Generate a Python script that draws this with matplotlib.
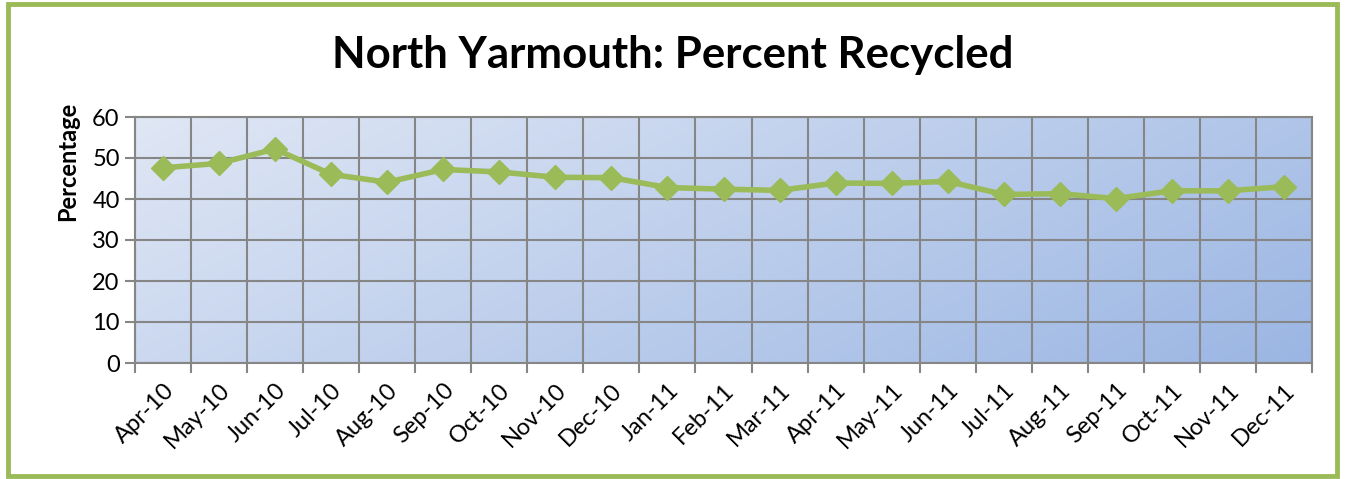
import numpy as np
import matplotlib
matplotlib.use("Agg")
import matplotlib.pyplot as plt
from matplotlib.patches import Rectangle

months = ['Apr-10', 'May-10', 'Jun-10', 'Jul-10', 'Aug-10', 'Sep-10', 'Oct-10',
          'Nov-10', 'Dec-10', 'Jan-11', 'Feb-11', 'Mar-11', 'Apr-11', 'May-11',
          'Jun-11', 'Jul-11', 'Aug-11', 'Sep-11', 'Oct-11', 'Nov-11', 'Dec-11']
pct_recycled = [47.6, 48.7, 52.2, 46.0, 44.1, 47.2, 46.6, 45.3, 45.2, 42.8, 42.4,
                42.1, 43.9, 43.8, 44.3, 41.1, 41.3, 40.1, 42.0, 42.0, 43.0]
y_ticks = [0, 10, 20, 30, 40, 50, 60]

plt.rcParams['font.family'] = ['Lato', 'DejaVu Sans']

fig = plt.figure(figsize=(13.45, 4.79), dpi=100)
# green frame round the chart
fig.patches.append(Rectangle((0.006, 0.007), 0.988, 0.985, transform=fig.transFigure,
                             fill=False, edgecolor='#9bbb59', linewidth=3.5))

ax = fig.add_axes([135 / 1345, 1 - 363 / 479, (1312 - 135) / 1345, (363 - 117) / 479])

# gradient fill, light top-left to darker bottom-right
gx, gy = np.meshgrid(np.linspace(0, 1, 200), np.linspace(0, 1, 200))
t = (gx * 0.7 + gy * 0.3)
c0 = np.array([0xe0, 0xe7, 0xf5]) / 255
c1 = np.array([0x9b, 0xb6, 0xe3]) / 255
img = c0 + (c1 - c0) * t[..., None]
ax.imshow(img, extent=[0, 1, 0, 1], transform=ax.transAxes, aspect='auto', zorder=0)

x = np.arange(len(months))
ax.plot(x, pct_recycled, color='#9bbb59', lw=4, marker='D', ms=12.5, zorder=3)

ax.set_xlim(-0.5, len(months) - 0.5)
ax.set_ylim(0, 60)
ax.set_yticks(y_ticks)
ax.set_xticks(x)
ax.set_xticklabels(months, rotation=45, ha='right', rotation_mode='anchor', fontsize=17)
ax.tick_params(axis='x', length=0, pad=12)
ax.set_xticks(np.arange(-0.5, len(months)), minor=True)
ax.tick_params(axis='x', which='minor', length=7, width=1.5, color='#868686')
ax.tick_params(axis='y', length=7, width=1.5, color='#868686', labelsize=17, pad=4)
ax.grid(True, axis='y', color='#868686', lw=1.5, zorder=1)
ax.grid(True, axis='x', which='minor', color='#868686', lw=1.5, zorder=1)
for s in ax.spines.values():
    s.set_color('#868686')
    s.set_linewidth(1.5)

fig.text(68 / 1345, 1 - 161 / 479, 'Percentage', rotation=90, ha='center', va='center',
         fontsize=17, fontweight='bold')
fig.text(0.5, 1 - 55 / 479, 'North Yarmouth: Percent Recycled', ha='center', va='center',
         fontsize=31.5, fontweight='bold')

fig.savefig('out.png', dpi=100)
